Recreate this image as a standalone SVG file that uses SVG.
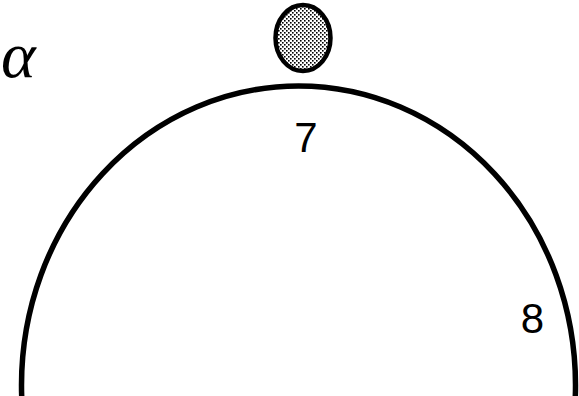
<svg xmlns="http://www.w3.org/2000/svg" width="579" height="396" viewBox="0 0 579 396">
  <style>
    .lbl { font-family: "Liberation Sans", Arial, sans-serif; font-size: 42px; fill: #000; text-anchor: middle; }
    .greek { font-family: "Liberation Serif", "DejaVu Serif", serif; font-style: italic; font-size: 66px; fill: #000; }
  </style>
  <defs>
    <pattern id="stipple" width="4" height="4" patternUnits="userSpaceOnUse">
      <rect width="4" height="4" fill="#ffffff"/>
      <rect x="0" y="0" width="1.6" height="1.6" fill="#000"/>
      <rect x="2" y="2" width="1.6" height="1.6" fill="#000"/>
    </pattern>
  </defs>
  <rect width="579" height="396" fill="#fff"/>
  <g id="arch">
    <ellipse cx="298.5" cy="385" rx="277" ry="299" fill="none" stroke="#000" stroke-width="5.5"/>
  </g>
  <g id="ball">
    <ellipse cx="303" cy="38" rx="27.5" ry="33" fill="url(#stipple)" stroke="#000" stroke-width="4.5"/>
  </g>
  <g id="labels">
    <text class="lbl" x="306" y="152">7</text>
    <text class="lbl" x="532.5" y="333">8</text>
    <text class="greek" x="1" y="77">α</text>
  </g>
</svg>
